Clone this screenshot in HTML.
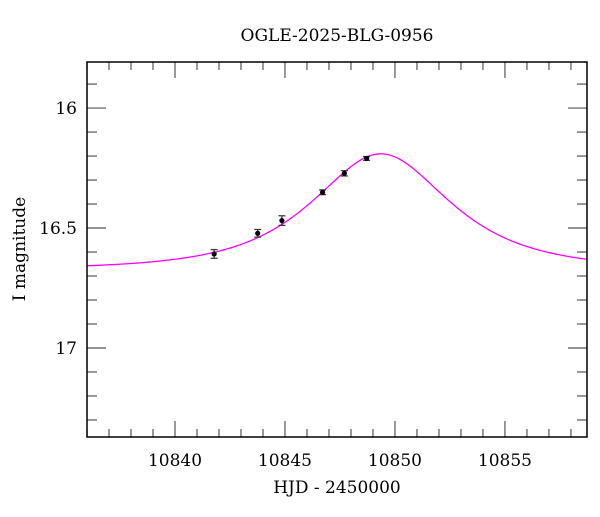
<!DOCTYPE html>
<html><head><meta charset="utf-8"><style>
html,body{margin:0;padding:0;background:#fff;}
svg text{font-family:"DejaVu Serif","Liberation Serif",serif;fill:#000;}
</style></head><body>
<svg id="chart" width="600" height="512" xmlns="http://www.w3.org/2000/svg">
<text x="337" y="41" font-size="17" text-anchor="middle">OGLE-2025-BLG-0956</text>
<text x="337" y="493" font-size="17" text-anchor="middle">HJD - 2450000</text>
<text x="25" y="249" font-size="17" text-anchor="middle" transform="rotate(-90 25 249)">I magnitude</text>
<g id="ticks"></g>
<g id="curve"></g>
<g id="points"></g>
<rect x="87" y="62" width="500" height="375" fill="none" stroke="#000" stroke-width="1.5"/>
</svg>
<script>
const obsHJD = [10841.78, 10843.76, 10844.86, 10846.71, 10847.70, 10848.71];
const obsMag = [16.608, 16.522, 16.469, 16.351, 16.272, 16.210];
const obsErr = [0.018, 0.016, 0.020, 0.010, 0.011, 0.008];
const xTickLabels = [10840, 10845, 10850, 10855];
const yTickLabels = [16, 16.5, 17];
const modelT0 = [10849.36];
const modelU0 = [0.78];
const modelTE = [4.3];
const modelBase = [16.672];

const X0=87,X1=587,Y0=62,Y1=437;
const xmin=10836, xmax=10858.73, ymin=15.808, ymax=17.371;
const sx=v=>X0+(v-xmin)/(xmax-xmin)*(X1-X0);
const sy=v=>Y0+(v-ymin)/(ymax-ymin)*(Y1-Y0);
const NS="http://www.w3.org/2000/svg";
function mk(tag,attrs,parent){const e=document.createElementNS(NS,tag);for(const k in attrs)e.setAttribute(k,attrs[k]);parent.appendChild(e);return e;}
const tg=document.getElementById('ticks');
for(let v=Math.ceil(xmin);v<=xmax;v++){
  const major=v%5===0, L=major?16:8, x=sx(v);
  let t=mk('line',{x1:x,x2:x,y1:Y1,y2:Y1-L,stroke:'#555','stroke-width':1.2},tg);
  
  
  t=mk('line',{x1:x,x2:x,y1:Y0,y2:Y0+L,stroke:'#555','stroke-width':1.2},tg);
  
  
}
xTickLabels.forEach(v=>{
  const t=mk('text',{x:sx(v),y:Y1+29,'font-size':17,'text-anchor':'middle'},tg);
  t.textContent=v;
  
  
});
for(let i=Math.ceil(ymin*10);i<=ymax*10;i++){
  const v=i/10, major=i%5===0, L=major?19:10, y=sy(v);
  let t=mk('line',{x1:X0,x2:X0+L,y1:y,y2:y,stroke:'#555','stroke-width':1.2},tg);
  
  
  t=mk('line',{x1:X1,x2:X1-L,y1:y,y2:y,stroke:'#555','stroke-width':1.2},tg);
  
  
}
yTickLabels.forEach(v=>{
  const t=mk('text',{x:X0-10,y:sy(v)+6,'font-size':17,'text-anchor':'end'},tg);
  t.textContent=v;
  
  
});
function modelMag(t){const tau=(t-modelT0[0])/modelTE[0];const u=Math.sqrt(tau*tau+modelU0[0]*modelU0[0]);const A=(u*u+2)/(u*Math.sqrt(u*u+4));return modelBase[0]-2.5*Math.log10(A);}
let d='';
for(let px=X0;px<=X1;px+=2){const t=xmin+(px-X0)/(X1-X0)*(xmax-xmin);d+=(px===X0?'M':'L')+px+','+sy(modelMag(t)).toFixed(2);}
const c=mk('path',{d:d,fill:'none',stroke:'#ff00ff','stroke-width':1.3},document.getElementById('curve'));


const pg=document.getElementById('points');
obsHJD.forEach((h,i)=>{
  const x=sx(h),y=sy(obsMag[i]),ya=sy(obsMag[i]-obsErr[i]),yb=sy(obsMag[i]+obsErr[i]);
  const g=mk('g',{},pg);
  
  
  mk('line',{x1:x,x2:x,y1:ya,y2:yb,stroke:'#333','stroke-width':1.2},g);
  mk('line',{x1:x-3.5,x2:x+3.5,y1:ya,y2:ya,stroke:'#333','stroke-width':1.2},g);
  mk('line',{x1:x-3.5,x2:x+3.5,y1:yb,y2:yb,stroke:'#333','stroke-width':1.2},g);
  mk('circle',{cx:x,cy:y,r:2.6,fill:'#000'},g);
});
</script>
</body></html>
